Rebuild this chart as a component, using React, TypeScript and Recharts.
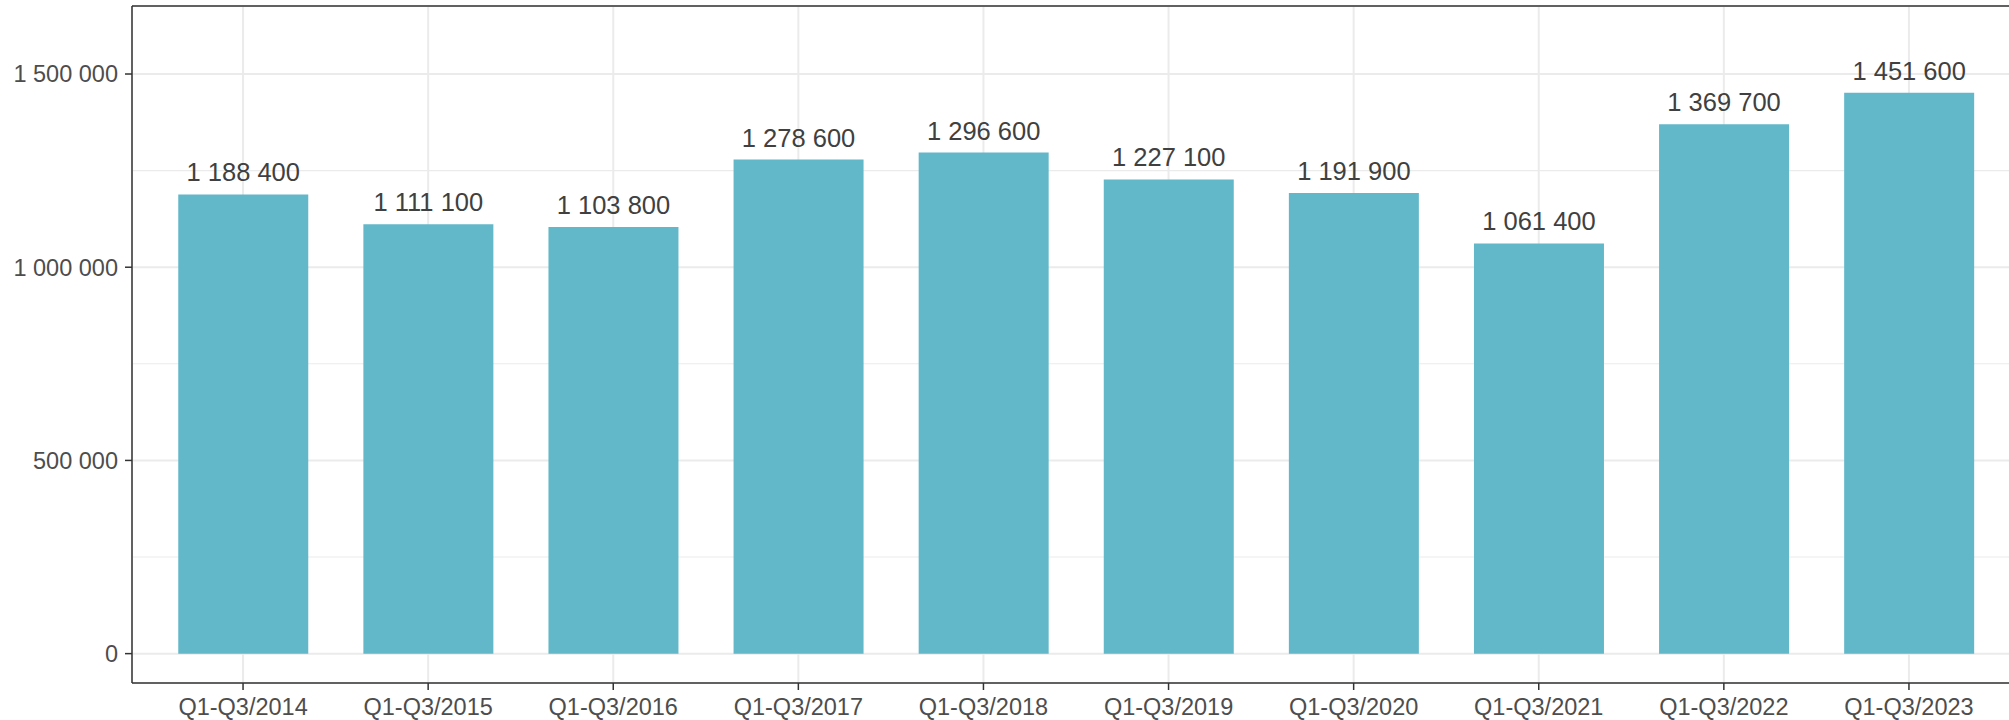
import React from 'react';
import {
  BarChart, Bar, XAxis, YAxis, CartesianGrid, ReferenceLine, LabelList
} from 'recharts';

const periods = [
  'Q1-Q3/2014', 'Q1-Q3/2015', 'Q1-Q3/2016', 'Q1-Q3/2017', 'Q1-Q3/2018',
  'Q1-Q3/2019', 'Q1-Q3/2020', 'Q1-Q3/2021', 'Q1-Q3/2022', 'Q1-Q3/2023',
];
const totals = [
  1188400, 1111100, 1103800, 1278600, 1296600,
  1227100, 1191900, 1061400, 1369700, 1451600,
];
const majorTicks = [0, 500000, 1000000, 1500000];
const minorTicks = [250000, 750000, 1250000];
const yMin = -76000;
const yMax = 1676000;

const data = periods.map((period, i) => ({ period, total: totals[i] }));

// thousands separated by a space, e.g. 1 188 400
const fmt = (v: number) => String(v).replace(/\B(?=(\d{3})+(?!\d))/g, ' ');

const font = '"Liberation Sans", Arial, sans-serif';

const App: React.FC = () => {
  return (
    <div style={{ position: 'absolute', left: 0, top: 0, width: 2009, height: 720, overflow: 'hidden', background: '#fff' }}>
      <BarChart
        width={2030}
        height={720}
        data={data}
        margin={{ top: 6, right: 10, bottom: 0, left: 0 }}
        barCategoryGap="15%"
        style={{ fontFamily: font }}
      >
        {/* minor grid, thin */}
        <CartesianGrid stroke="#ebebeb" strokeWidth={1.1} vertical={false} horizontalValues={minorTicks} />
        <CartesianGrid stroke="#ebebeb" strokeWidth={2} />
        <ReferenceLine y={yMax} stroke="#333333" strokeWidth={1.5} />
        <XAxis
          dataKey="period"
          height={37}
          padding={{ left: 18.5, right: 18.5 }}
          tickSize={7}
          tickMargin={8}
          stroke="#333333"
          axisLine={{ stroke: '#333333', strokeWidth: 1.5 }}
          tickLine={{ stroke: '#333333', strokeWidth: 1.5 }}
          tick={{ fill: '#4d4d4d', fontSize: 23.5, fontFamily: font }}
          interval={0}
        />
        <YAxis
          width={132}
          domain={[yMin, yMax]}
          ticks={majorTicks}
          allowDataOverflow
          tickFormatter={fmt}
          tickSize={7}
          tickMargin={7}
          axisLine={{ stroke: '#333333', strokeWidth: 1.5 }}
          tickLine={{ stroke: '#333333', strokeWidth: 1.5 }}
          tick={{ fill: '#4d4d4d', fontSize: 23.5, fontFamily: font }}
        />
        <Bar dataKey="total" fill="#62b8c9" isAnimationActive={false}>
          <LabelList
            dataKey="total"
            position="top"
            offset={13}
            formatter={(v: any) => fmt(Number(v))}
            style={{ fill: '#404040', fontSize: 25.5, fontFamily: font }}
          />
        </Bar>
      </BarChart>
    </div>
  );
};

export default App;
